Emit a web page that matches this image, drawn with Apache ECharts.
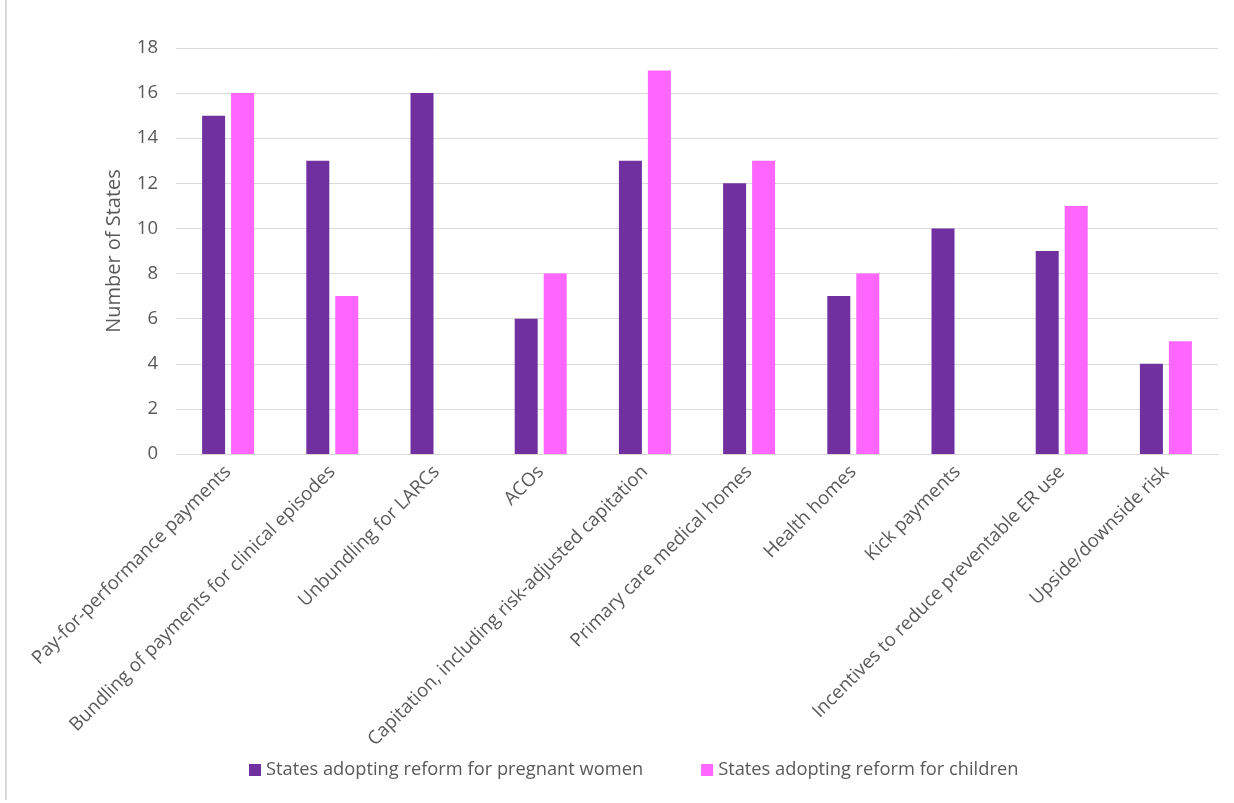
<!DOCTYPE html>
<html>
<head>
<meta charset="utf-8">
<script src="https://cdn.jsdelivr.net/npm/echarts@6/dist/echarts.min.js"></script>
<style>
html,body{margin:0;padding:0;background:#fff;}
#chart{width:1234px;height:803px;}
</style>
</head>
<body>
<div id="chart"></div>
<script>
const categories = [
  'Pay-for-performance payments',
  'Bundling of payments for clinical episodes',
  'Unbundling for LARCs',
  'ACOs',
  'Capitation, including risk-adjusted capitation',
  'Primary care medical homes',
  'Health homes',
  'Kick payments',
  'Incentives to reduce preventable ER use',
  'Upside/downside risk'
];
const pregnantWomen = [15, 13, 16, 6, 13, 12, 7, 10, 9, 4];
const children = [16, 7, null, 8, 17, 13, 8, null, 11, 5];
const seriesNames = ['States adopting reform for pregnant women', 'States adopting reform for children'];
const yTicks = { min: 0, max: 18, interval: 2 };

const font = '"Open Sans", "Liberation Sans", sans-serif';
const chart = echarts.init(document.getElementById('chart'));
chart.setOption({
  animation: false,
  backgroundColor: '#ffffff',
  graphic: [{
    type: 'rect',
    shape: { x: 5, y: 0, width: 2, height: 800 },
    style: { fill: '#d9d9d9' },
    silent: true
  }],
  grid: { left: 176, right: 16, top: 48, bottom: 349, containLabel: false },
  legend: {
    bottom: 19,
    left: 244,
    itemWidth: 12,
    itemHeight: 12,
    itemGap: 58,
    icon: 'rect',
    textStyle: { color: '#595959', fontSize: 18.3, fontFamily: font },
    data: seriesNames
  },
  xAxis: {
    type: 'category',
    data: categories,
    axisTick: { show: false },
    axisLine: { lineStyle: { color: '#d9d9d9', width: 1 } },
    axisLabel: {
      interval: 0,
      rotate: 45,
      margin: 15,
      color: '#595959',
      fontSize: 18.7,
      fontFamily: font
    }
  },
  yAxis: {
    type: 'value',
    min: yTicks.min,
    max: yTicks.max,
    interval: yTicks.interval,
    name: 'Number of States',
    nameLocation: 'middle',
    nameGap: 52,
    nameTextStyle: { color: '#595959', fontSize: 20, fontFamily: font },
    axisLine: { show: false },
    axisTick: { show: false },
    axisLabel: { color: '#595959', fontSize: 18.5, fontFamily: font, margin: 18 },
    splitLine: { lineStyle: { color: '#d9d9d9', width: 1 } }
  },
  series: [
    {
      name: seriesNames[0],
      type: 'bar',
      data: pregnantWomen,
      barWidth: 23,
      barGap: '26%',
      itemStyle: { color: '#7030A0' }
    },
    {
      name: seriesNames[1],
      type: 'bar',
      data: children,
      barWidth: 23,
      barGap: '26%',
      itemStyle: { color: '#FF66FF' }
    }
  ]
});
</script>
</body>
</html>
